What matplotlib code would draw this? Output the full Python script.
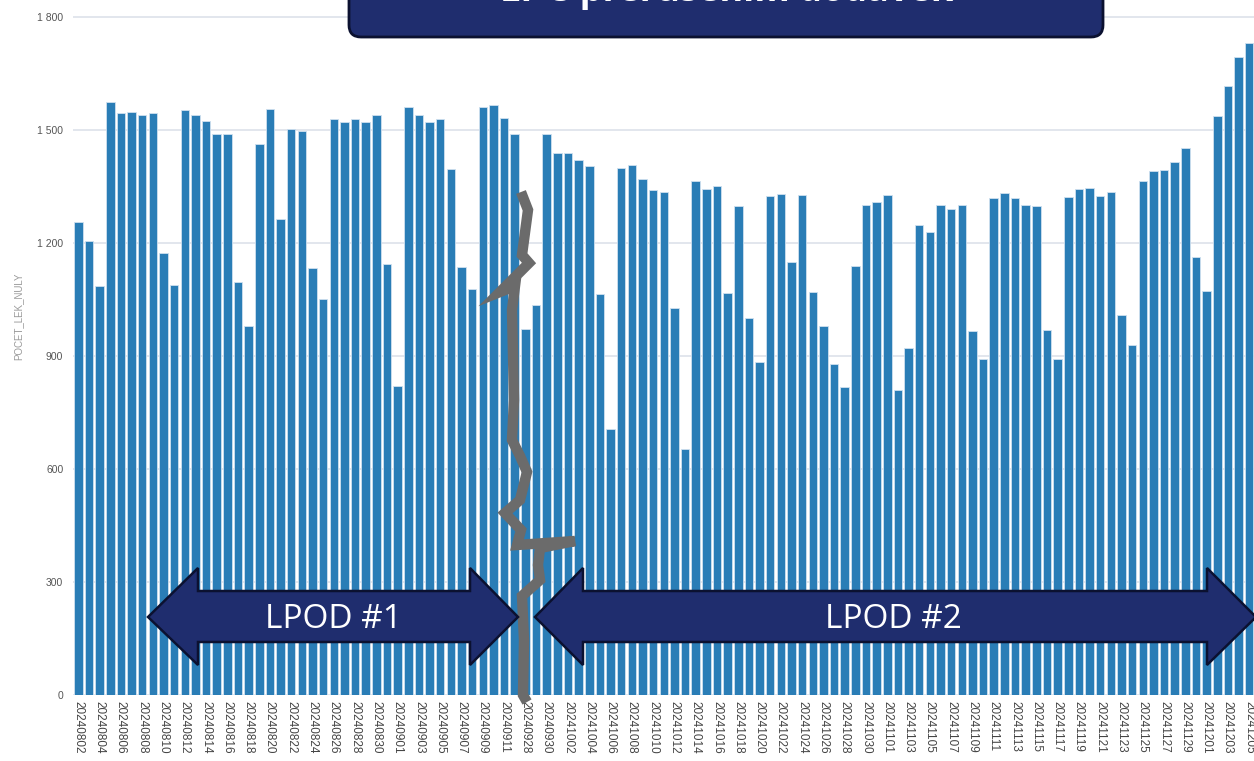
import matplotlib
matplotlib.use("Agg")
import matplotlib.pyplot as plt
from matplotlib.patches import Polygon, FancyBboxPatch

# data
dates = (
    [f"202408{d:02d}" for d in range(2, 32)]
    + [f"202409{d:02d}" for d in range(1, 13)]
    + [f"202409{d:02d}" for d in range(28, 31)]
    + [f"202410{d:02d}" for d in range(1, 32)]
    + [f"202411{d:02d}" for d in range(1, 31)]
    + [f"202412{d:02d}" for d in range(1, 6)]
)
values = [
    1255, 1204, 1086, 1575, 1544, 1547, 1540, 1544, 1173, 1089,
    1552, 1540, 1525, 1488, 1488, 1096, 980, 1463, 1556, 1263,
    1503, 1497, 1134, 1050, 1530, 1522, 1530, 1522, 1539, 1143,
    820, 1562, 1540, 1522, 1530, 1396, 1137, 1078, 1562, 1566,
    1533, 1488, 972, 1035, 1488, 1438, 1440, 1421, 1403, 1064,
    705, 1398, 1406, 1370, 1340, 1334, 1027, 652, 1365, 1344,
    1350, 1066, 1299, 1002, 884, 1326, 1331, 1150, 1328, 1069,
    980, 879, 817, 1140, 1300, 1308, 1328, 810, 921, 1249,
    1230, 1302, 1291, 1300, 966, 891, 1319, 1332, 1319, 1300,
    1297, 969, 891, 1322, 1344, 1347, 1326, 1336, 1009, 929,
    1365, 1390, 1393, 1415, 1452, 1163, 1072, 1536, 1617, 1693,
    1730,
]
yticks = [0, 300, 600, 900, 1200, 1500, 1800]

W, H = 1254, 761
fig = plt.figure(figsize=(W / 100, H / 100), dpi=100)
ax = fig.add_axes([73 / W, 1 - 695 / H, 1 - 73 / W, 695 / H])

x = list(range(len(values)))
ax.bar(x, values, width=0.8, color="#2a7db6", edgecolor="#cfe0ef", linewidth=0.6, zorder=2)
ax.set_xlim(-0.5, 110.45)
ax.set_ylim(0, 1845)

ax.set_yticks(yticks)
ax.set_yticklabels([f"{v:,}".replace(",", " ") for v in yticks],
                   fontsize=7.5, color="#555555", family="Liberation Sans")
ax.yaxis.grid(True, color="#dde2ea", linewidth=1.2, zorder=0)
ax.tick_params(axis="y", length=0, pad=7)

ax.set_xticks(x[::2])
ax.set_xticklabels(dates[::2], rotation=-90, fontsize=8.5, color="#444444",
                   family="Liberation Sans")
ax.tick_params(axis="x", length=0, pad=4)
for s in ax.spines.values():
    s.set_visible(False)
ax.set_ylabel("POCET_LEK_NULY", fontsize=7, color="#9a9a9a", family="Liberation Sans")
ax.yaxis.set_label_coords(-50 / (W - 73), 0.545)

# overlay in pixel coordinates for slide annotations
ov = fig.add_axes([0, 0, 1, 1])
ov.set_xlim(0, W)
ov.set_ylim(H, 0)
ov.axis("off")
ov.patch.set_alpha(0)

navy = "#1f2d6e"
dark = "#0b1130"

# break line
brk = [(521, 192), (528, 210), (522, 255), (529, 263), (511, 281), (500, 292),
       (515, 286), (512, 310), (514, 400), (512, 440), (520, 456), (527, 472),
       (520, 500), (505, 513), (521, 530), (517, 545), (575, 541), (540, 548),
       (538, 565), (540, 580), (522, 596), (524, 640), (523, 695), (527, 702)]
ov.plot([p[0] for p in brk], [p[1] for p in brk], color="#6b6b6b", lw=7.5,
        solid_joinstyle="miter", solid_capstyle="butt", zorder=3)

# LPOD arrows
a1 = [(148, 617), (198, 568), (198, 591), (470, 591), (470, 568), (518, 617),
      (470, 665), (470, 642), (198, 642), (198, 665)]
a2 = [(535, 617), (583, 568), (583, 591), (1207, 591), (1207, 568), (1256, 617),
      (1207, 665), (1207, 642), (583, 642), (583, 665)]
for pts in (a1, a2):
    ov.add_patch(Polygon(pts, closed=True, facecolor=navy, edgecolor=dark, lw=1.8, zorder=4))
ov.text(333, 619, "LPOD #1", color="white", fontsize=24, family="Open Sans",
        ha="center", va="center", zorder=5)
ov.text(893, 619, "LPOD #2", color="white", fontsize=24, family="Open Sans",
        ha="center", va="center", zorder=5)

# title box (cut at the top of the slide)
ov.add_patch(FancyBboxPatch((349, -40), 754, 77, boxstyle="round,pad=0,rounding_size=12",
                            facecolor=navy, edgecolor=dark, lw=2, zorder=4))
ov.text(727, -8, "LP s přerušením dodávek", color="white", fontsize=26,
        fontweight="bold", family="Open Sans", ha="center", va="center", zorder=5)

fig.savefig("out.png", dpi=100)
